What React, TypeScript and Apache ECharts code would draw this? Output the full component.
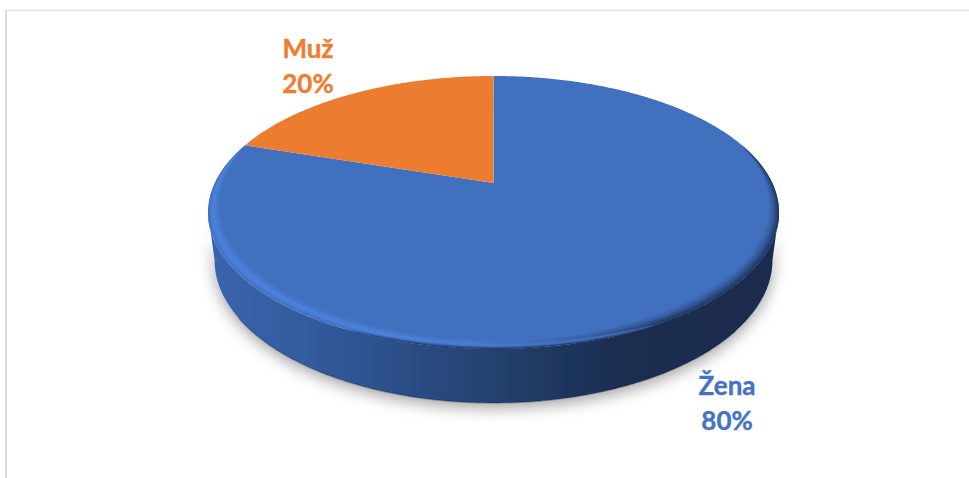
import React, { useEffect, useRef } from "react";
import * as echarts from "echarts";

const categories = ["Žena", "Muž"];
const shares = [80, 20];
const sliceColors = ["#4170BE", "#EB7C30"];
const labelColors = ["#4472C4", "#ED7D31"];

// Perspective projection of the pie's top and bottom discs
const CX = 493.5;
const PERSP = 0.216;
const topDisc = { ux: 278.8, y0: 183, yv: -90.6 };
const bottomDisc = { ux: 272.4, y0: 229.1, yv: -86.8 };
const labelAnchor = [
  { dx: 35, dy: 92 },
  { dx: -46, dy: -28 },
];
const DEG = Math.PI / 180;
const lightLayers = [
  { inner: 0.004, outer: 0.05, alpha: 0.16 },
  { inner: 0.01, outer: 0.04, alpha: 0.24 },
  { inner: 0.016, outer: 0.032, alpha: 0.34 },
];
const darkLayers = [
  { inner: 0, outer: 0.042, alpha: 0.1 },
  { inner: 0, outer: 0.032, alpha: 0.14 },
  { inner: 0, outer: 0.023, alpha: 0.2 },
  { inner: 0, outer: 0.015, alpha: 0.28 },
  { inner: 0, outer: 0.007, alpha: 0.38 },
];

function project(d: typeof topDisc, theta: number, k = 1): number[] {
  const u = Math.sin(theta) * k;
  const v = Math.cos(theta) * k;
  const den = 1 + PERSP * v;
  return [CX + (d.ux * u) / den, (d.y0 + d.yv * v) / den];
}

function arc(d: typeof topDisc, a: number, b: number): number[][] {
  const n = Math.max(2, Math.ceil(Math.abs(b - a) / 0.01));
  const pts: number[][] = [];
  for (let i = 0; i <= n; i++) pts.push(project(d, a + ((b - a) * i) / n));
  return pts;
}

// Tapered band inside the top rim, zero width at both ends
function crescent(a: number, b: number, inner: number, outer: number): number[][] {
  const n = 160;
  const out: number[][] = [];
  const back: number[][] = [];
  for (let i = 0; i <= n; i++) {
    const t = i / n;
    const s = Math.pow(Math.sin(Math.PI * t), 0.6);
    const th = a + (b - a) * t;
    out.push(project(topDisc, th, 1 - inner * s));
    back.unshift(project(topDisc, th, 1 - outer * s));
  }
  return [...out, ...back];
}

const LG = (echarts.graphic as any).LinearGradient;

function renderItem(params: any, api: any) {
  const idx = params.dataIndex;
  const total = shares.reduce((s, x) => s + x, 0);
  const before = shares.slice(0, idx).reduce((s, x) => s + x, 0);
  const start = (before / total) * Math.PI * 2;
  const end = start + (Number(api.value(0)) / total) * Math.PI * 2;
  const children: any[] = [];

  const wallMin = Math.max(start, Math.acos(-PERSP));
  const wallMax = Math.min(end, Math.PI * 2 - Math.acos(-PERSP));
  const hasWall = wallMax > wallMin;
  if (hasWall) {
    const wall = [...arc(topDisc, wallMin, wallMax), ...arc(bottomDisc, wallMax, wallMin)];
    children.push({
      type: "polygon",
      shape: { points: wall },
      style: {
        fill: new LG(208, 0, 779, 0, [
          { offset: 0, color: "#3A66AE" },
          { offset: 0.2, color: "#31599B" },
          { offset: 0.5, color: "#25416F" },
          { offset: 0.72, color: "#1A2D50" },
          { offset: 1, color: "#1A2C4E" },
        ], true),
        shadowBlur: 15,
        shadowOffsetY: 5,
        shadowColor: "rgba(0,0,0,0.36)",
      },
    });
    children.push({
      type: "polyline",
      shape: { points: arc(bottomDisc, 130 * DEG, 235 * DEG) },
      style: { fill: "none", stroke: "rgba(15,25,50,0.3)", lineWidth: 1.5 },
    });
  }

  children.push({
    type: "polygon",
    shape: { points: [[CX, topDisc.y0], ...arc(topDisc, start, end)] },
    style: { fill: sliceColors[idx] },
  });

  if (hasWall) {
    darkLayers.forEach((l) =>
      children.push({
        type: "polygon",
        shape: { points: crescent(72 * DEG, 205 * DEG, l.inner, l.outer) },
        style: { fill: `rgba(22,38,70,${l.alpha})` },
      })
    );
    lightLayers.forEach((l) =>
      children.push({
        type: "polygon",
        shape: { points: crescent(152 * DEG, 288 * DEG, l.inner, l.outer) },
        style: { fill: `rgba(84,140,240,${l.alpha})` },
      })
    );
  }

  const mid = (start + end) / 2;
  const p = project(topDisc, mid);
  const pct = Math.round((Number(api.value(0)) / total) * 100);
  children.push({
    type: "text",
    style: {
      text: `${categories[idx]}\n${pct}%`,
      x: p[0] + labelAnchor[idx].dx,
      y: p[1] + labelAnchor[idx].dy,
      fill: labelColors[idx],
      stroke: labelColors[idx],
      lineWidth: 0.4,
      font: "bold 26px Lato",
      lineHeight: 35,
      align: "center",
      verticalAlign: "middle",
    },
  });
  return { type: "group", children };
}

export default function App() {
  const ref = useRef<HTMLDivElement>(null);
  useEffect(() => {
    document.body.style.margin = "0";
    const chart = echarts.init(ref.current!, null, { renderer: "svg" });
    chart.setOption({
      animation: false,
      backgroundColor: "#ffffff",
      graphic: [
        { type: "line", shape: { x1: 6, y1: 10.5, x2: 969, y2: 10.5 }, style: { stroke: "#E0E0E0", lineWidth: 1.5 } },
        { type: "line", shape: { x1: 6, y1: 10, x2: 6, y2: 478 }, style: { stroke: "#DCDCDC", lineWidth: 2 } },
      ],
      series: [
        {
          type: "custom",
          coordinateSystem: "none",
          renderItem,
          silent: true,
          data: shares.map((v, i) => ({ name: categories[i], value: [v] })),
        },
      ],
    });
    return () => chart.dispose();
  }, []);
  return <div ref={ref} style={{ width: 969, height: 478 }} />;
}
